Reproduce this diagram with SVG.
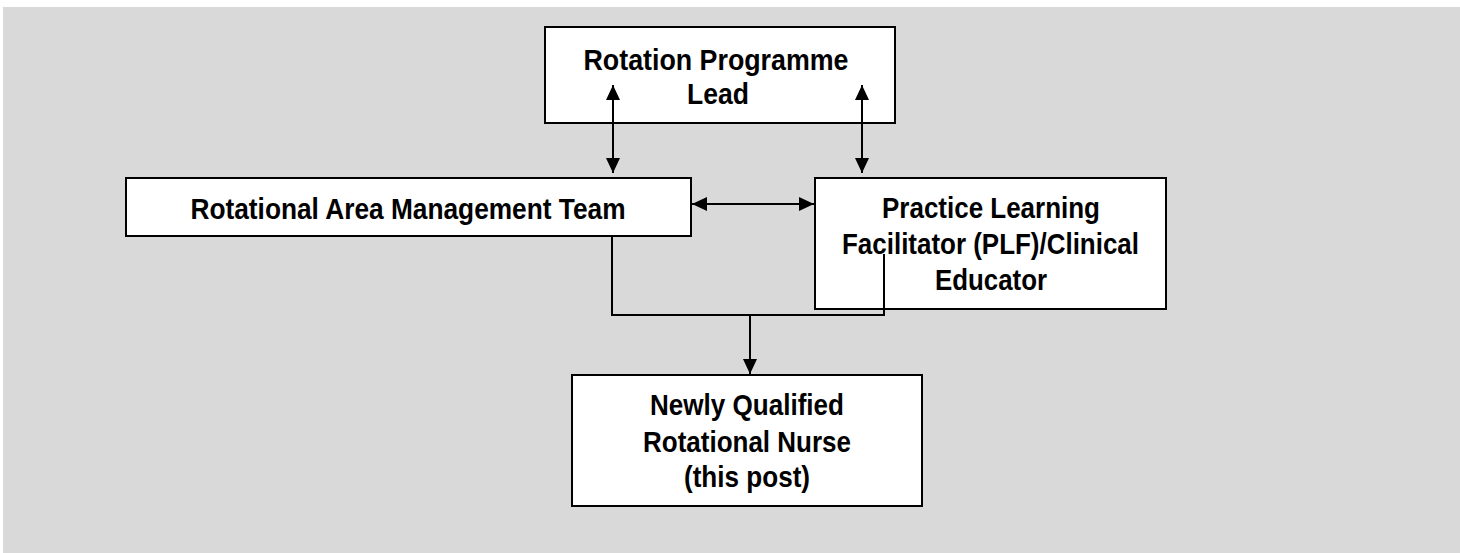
<svg xmlns="http://www.w3.org/2000/svg" width="1460" height="553" viewBox="0 0 1460 553">
  <style>
    .box { fill: #ffffff; stroke: #000000; stroke-width: 2; }
    .lbl { font-family: "Liberation Sans", Arial, sans-serif; font-weight: bold; font-size: 29.5px; fill: #000000; text-anchor: middle; }
    .conn { fill: none; stroke: #000000; stroke-width: 2; }
  </style>
  <defs>
    <marker id="arrow" viewBox="0 0 15 14" refX="15" refY="7" markerWidth="15" markerHeight="14" markerUnits="userSpaceOnUse" orient="auto-start-reverse">
      <path d="M0,0 L15,7 L0,14 Z" fill="#000000"/>
    </marker>
  </defs>
  <rect x="0" y="0" width="1460" height="553" fill="#ffffff"/>
  <rect x="3" y="7" width="1457" height="546" fill="#d9d9d9"/>

  <g id="node-rpl">
    <rect class="box" x="545" y="27" width="350" height="96"/>
    <text class="lbl" x="716" y="70" textLength="265" lengthAdjust="spacingAndGlyphs">Rotation Programme</text>
    <text class="lbl" x="718" y="104" textLength="62" lengthAdjust="spacingAndGlyphs">Lead</text>
  </g>

  <g id="node-ramt">
    <rect class="box" x="126" y="178" width="565" height="58"/>
    <text class="lbl" x="408" y="219" textLength="435" lengthAdjust="spacingAndGlyphs">Rotational Area Management Team</text>
  </g>

  <g id="node-plf">
    <rect class="box" x="815" y="178" width="351" height="131"/>
    <text class="lbl" x="991" y="218" textLength="218" lengthAdjust="spacingAndGlyphs">Practice Learning</text>
    <text class="lbl" x="990.5" y="254" textLength="297" lengthAdjust="spacingAndGlyphs">Facilitator (PLF)/Clinical</text>
    <text class="lbl" x="991" y="290" textLength="112" lengthAdjust="spacingAndGlyphs">Educator</text>
  </g>

  <g id="node-nqrn">
    <rect class="box" x="572" y="375" width="350" height="131"/>
    <text class="lbl" x="747" y="415" textLength="194" lengthAdjust="spacingAndGlyphs">Newly Qualified</text>
    <text class="lbl" x="747" y="452" textLength="208" lengthAdjust="spacingAndGlyphs">Rotational Nurse</text>
    <text class="lbl" x="747" y="487" textLength="126" lengthAdjust="spacingAndGlyphs">(this post)</text>
  </g>

  <g id="connectors">
    <line class="conn" x1="613" y1="85" x2="613" y2="173" marker-start="url(#arrow)" marker-end="url(#arrow)"/>
    <line class="conn" x1="862" y1="85" x2="862" y2="173" marker-start="url(#arrow)" marker-end="url(#arrow)"/>
    <line class="conn" x1="692" y1="204" x2="814" y2="204" marker-start="url(#arrow)" marker-end="url(#arrow)"/>
    <polyline class="conn" points="612,236 612,315 884,315 884,254"/>
    <line class="conn" x1="750" y1="315" x2="750" y2="374" marker-end="url(#arrow)"/>
  </g>
</svg>
